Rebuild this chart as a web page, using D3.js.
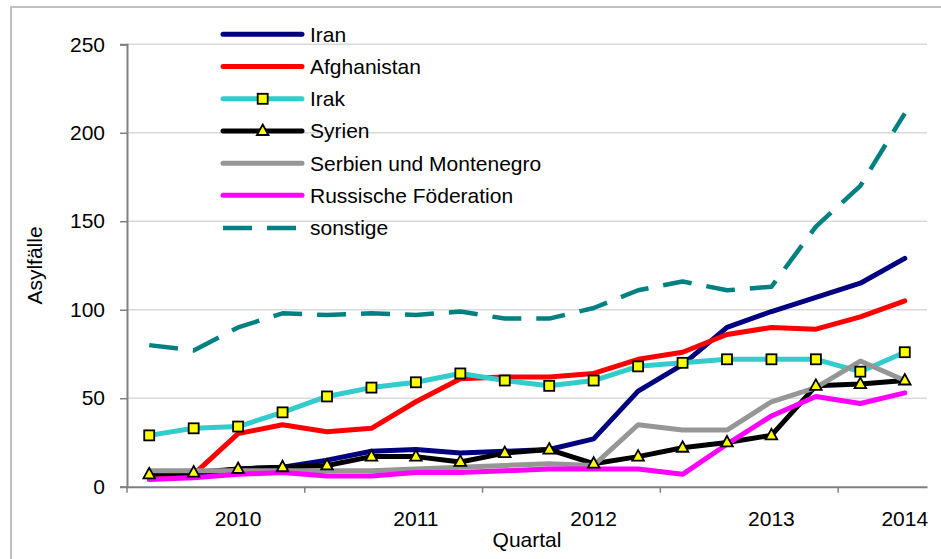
<!DOCTYPE html>
<html>
<head>
<meta charset="utf-8">
<script src="https://cdn.jsdelivr.net/npm/d3@7/dist/d3.min.js"></script>
<style>
  html, body { margin: 0; padding: 0; background: #fff; }
  svg { display: block; font-family: "Liberation Sans", Arial, sans-serif; }
</style>
</head>
<body>
<svg id="chart" width="941" height="559"></svg>
<script>
// ---- data ----
const categories = ["2009-3","2009-4","2010-1","2010-2","2010-3","2010-4","2011-1","2011-2","2011-3","2011-4","2012-1","2012-2","2012-3","2012-4","2013-1","2013-2","2013-3","2013-4"];
const tickLabels = ["","","2010","","","","2011","","","","2012","","","","2013","","","2014"];
const yTicks = [0, 50, 100, 150, 200, 250];
const boundaryIdx = [0, 4, 8, 12, 16];

const iran        = [7,7,10,11,15,20,21,19,20,21,27,54,69,90,99,107,115,129];
const afghanistan = [6,7,30,35,31,33,48,61,62,62,64,72,76,86,90,89,96,105];
const irak        = [29,33,34,42,51,56,59,64,60,57,60,68,70,72,72,72,65,76];
const syrien      = [7,8,10,11,12,17,17,14,19,21,13,17,22,25,29,57,58,60];
const serbien     = [9,9,9,9,9,9,10,11,12,13,12,35,32,32,48,56,71,60];
const russland    = [4,5,7,8,6,6,8,8,9,10,10,10,7,24,40,51,47,53];
const sonstige    = [80,77,90,98,97,98,97,99,95,95,101,111,116,111,113,147,170,211];

const seriesNames = ["Iran","Afghanistan","Irak","Syrien","Serbien und Montenegro","Russische Föderation","sonstige"];
const seriesValues = [iran, afghanistan, irak, syrien, serbien, russland, sonstige];
const seriesColors = ["#000080","#FF0000","#33CCCC","#000000","#969696","#FF00FF","#008080"];
const seriesMarkers = [null, null, "square", "triangle", null, null, null];
const seriesDash = [null, null, null, null, null, null, "29,15"];

// ---- layout ----
const svg = d3.select("#chart");
const pL = 127, pR = 927, pT = 44.3, pB = 486.7;
const FONT = 21;

// outer border (left and top edges visible)
svg.append("rect").attr("x", 11).attr("y", 7).attr("width", 960).attr("height", 600)
  .attr("fill", "none").attr("stroke", "#c0c0c0").attr("stroke-width", 2);

const x = d3.scaleBand().domain(categories).range([pL, pR]).padding(0);
const y = d3.scaleLinear().domain([0, 250]).range([pB, pT]);

// gridlines
svg.append("g").selectAll("line").data(yTicks.filter(d => d > 0)).join("line")
  .attr("x1", pL).attr("x2", pR)
  .attr("y1", d => y(d)).attr("y2", d => y(d))
  .attr("stroke", "#d9d9d9").attr("stroke-width", 1.5);

// y axis
const yAxis = svg.append("g").attr("transform", `translate(${pL},0)`)
  .call(d3.axisLeft(y).tickValues(yTicks).tickSize(7).tickPadding(15));
yAxis.select(".domain").attr("stroke", "#808080").attr("stroke-width", 2);
yAxis.selectAll(".tick line").attr("stroke", "#808080").attr("stroke-width", 1.5);
yAxis.selectAll("text").attr("font-size", FONT).attr("fill", "#000")
  .attr("font-family", "Liberation Sans, Arial, sans-serif");

// x axis
const xAxis = svg.append("g").attr("transform", `translate(0,${pB})`)
  .call(d3.axisBottom(x).tickSize(0).tickPadding(24).tickFormat((d, i) => tickLabels[i]));
xAxis.select(".domain").attr("stroke", "#808080").attr("stroke-width", 2);
xAxis.selectAll("text").attr("font-size", FONT).attr("fill", "#000")
  .attr("font-family", "Liberation Sans, Arial, sans-serif");
xAxis.selectAll(".boundary").data(boundaryIdx).join("line")
  .attr("class", "boundary")
  .attr("x1", i => x(categories[i])).attr("x2", i => x(categories[i]))
  .attr("y1", 0).attr("y2", 6)
  .attr("stroke", "#808080").attr("stroke-width", 1.5);

// axis titles
svg.append("text").attr("transform", `translate(42,${(pT + pB) / 2}) rotate(-90)`)
  .attr("text-anchor", "middle").attr("font-size", FONT).text("Asylfälle");
svg.append("text").attr("x", (pL + pR) / 2).attr("y", 546.5)
  .attr("text-anchor", "middle").attr("font-size", FONT).text("Quartal");

// lines
const line = d3.line().x((d, i) => x(categories[i]) + x.bandwidth() / 2).y(d => y(d));
const linesG = svg.append("g");
seriesValues.forEach((vals, s) => {
  linesG.append("path").datum(vals)
    .attr("d", line)
    .attr("fill", "none")
    .attr("stroke", seriesColors[s])
    .attr("stroke-width", seriesDash[s] ? 4.5 : 5)
    .attr("stroke-linejoin", "round")
    .attr("stroke-linecap", seriesDash[s] ? "butt" : "round")
    .attr("stroke-dasharray", seriesDash[s]);
});

// markers
function drawMarker(g, type, cx, cy) {
  if (type === "square") {
    g.append("rect").attr("x", cx - 5).attr("y", cy - 5).attr("width", 10).attr("height", 10)
      .attr("fill", "#FFFF00").attr("stroke", "#000").attr("stroke-width", 1.8);
  } else if (type === "triangle") {
    g.append("path").attr("d", `M${cx},${cy - 6.5}L${cx + 5.8},${cy + 4}L${cx - 5.8},${cy + 4}Z`)
      .attr("fill", "#FFFF00").attr("stroke", "#000").attr("stroke-width", 1.8)
      .attr("stroke-linejoin", "miter");
  }
}
const markG = svg.append("g");
seriesValues.forEach((vals, s) => {
  if (!seriesMarkers[s]) return;
  vals.forEach((v, i) => drawMarker(markG, seriesMarkers[s], x(categories[i]) + x.bandwidth() / 2, y(v)));
});

// legend
const legX1 = 223, legX2 = 302, legTextX = 310;
const legY = [34.3, 66.6, 98.8, 131, 163.2, 195.2, 228];
const legG = svg.append("g");
seriesNames.forEach((name, s) => {
  const ly = legY[s];
  if (seriesDash[s]) {
    legG.append("line").attr("x1", 223).attr("x2", 296).attr("y1", ly).attr("y2", ly)
      .attr("stroke", seriesColors[s]).attr("stroke-width", 4.5)
      .attr("stroke-dasharray", seriesDash[s]);
  } else {
    legG.append("line").attr("x1", legX1).attr("x2", legX2).attr("y1", ly).attr("y2", ly)
      .attr("stroke", seriesColors[s]).attr("stroke-width", 5).attr("stroke-linecap", "round");
  }
  if (seriesMarkers[s]) drawMarker(legG, seriesMarkers[s], 262.7, ly);
  legG.append("text").attr("x", legTextX).attr("y", ly).attr("dy", "0.35em")
    .attr("font-size", FONT).text(name);
});
</script>
</body>
</html>
